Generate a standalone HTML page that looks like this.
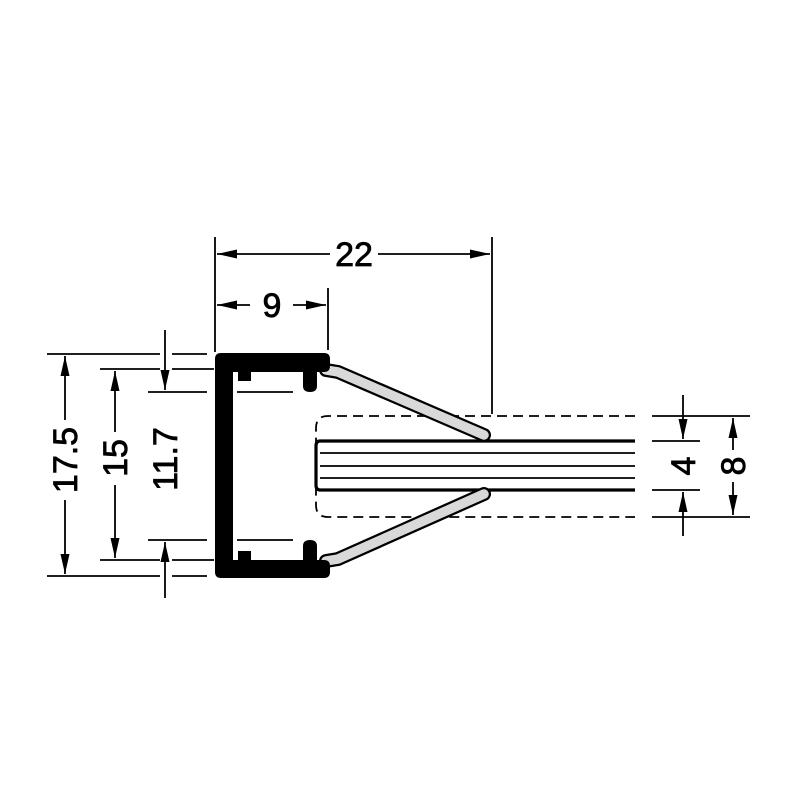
<!DOCTYPE html>
<html><head><style>html,body{margin:0;padding:0;background:#fff}svg{display:block}</style></head>
<body>
<svg width="800" height="800" viewBox="0 0 800 800" xmlns="http://www.w3.org/2000/svg">
<defs>
<marker id="a" viewBox="0 0 20 10" refX="20" refY="5" markerWidth="20" markerHeight="10" markerUnits="userSpaceOnUse" orient="auto-start-reverse"><path d="M0,0.5 L20,5 L0,9.5z" fill="#000"/></marker>
</defs>
<rect width="800" height="800" fill="#fff"/>
<g stroke="#000" stroke-width="1.8" fill="none">
<line x1="215" y1="237" x2="215" y2="352"/>
<line x1="492" y1="237" x2="492" y2="414"/>
<line x1="328" y1="288" x2="328" y2="350"/>
<line x1="217" y1="254" x2="330" y2="254" marker-start="url(#a)"/>
<line x1="378" y1="254" x2="490" y2="254" marker-end="url(#a)"/>
<line x1="217" y1="305" x2="250" y2="305" marker-start="url(#a)"/>
<line x1="293" y1="305" x2="326" y2="305" marker-end="url(#a)"/>
<line x1="47" y1="354" x2="160" y2="354"/><line x1="172" y1="354" x2="207" y2="354"/>
<line x1="100" y1="369" x2="160" y2="369"/><line x1="172" y1="369" x2="214" y2="369"/>
<line x1="148" y1="392" x2="207" y2="392"/><line x1="237" y1="392" x2="293" y2="392"/>
<line x1="148" y1="540" x2="207" y2="540"/><line x1="237" y1="540" x2="293" y2="540"/>
<line x1="100" y1="560" x2="160" y2="560"/><line x1="172" y1="560" x2="214" y2="560"/>
<line x1="47" y1="576" x2="160" y2="576"/><line x1="172" y1="576" x2="207" y2="576"/>
<line x1="65" y1="420" x2="65" y2="356" marker-end="url(#a)"/>
<line x1="65" y1="500" x2="65" y2="574" marker-end="url(#a)"/>
<line x1="115" y1="432" x2="115" y2="371" marker-end="url(#a)"/>
<line x1="115" y1="485" x2="115" y2="558" marker-end="url(#a)"/>
<line x1="165" y1="330" x2="165" y2="390" marker-end="url(#a)"/>
<line x1="165" y1="598" x2="165" y2="542" marker-end="url(#a)"/>
<line x1="652" y1="416" x2="750" y2="416"/>
<line x1="652" y1="517" x2="750" y2="517"/>
<line x1="652" y1="441" x2="700" y2="441"/>
<line x1="652" y1="490" x2="700" y2="490"/>
<line x1="683" y1="395" x2="683" y2="439" marker-end="url(#a)"/>
<line x1="683" y1="536" x2="683" y2="492" marker-end="url(#a)"/>
<line x1="733" y1="450" x2="733" y2="418" marker-end="url(#a)"/>
<line x1="733" y1="482" x2="733" y2="515" marker-end="url(#a)"/>
<path d="M635,416 L328,416 Q316,416 316,428 L316,505 Q316,517 328,517 L635,517" stroke-dasharray="10,6"/>
<path d="M635,441 L320,441 Q316,441 316,446 L316,485 Q316,490 320,490 L635,490" stroke-width="3.2"/>
<line x1="320" y1="453" x2="635" y2="453"/>
<line x1="320" y1="466" x2="635" y2="466"/>
<line x1="320" y1="478" x2="635" y2="478"/>
</g>
<g stroke-linecap="round" fill="none">
<path d="M326,370 L338,372 L484,435" stroke="#000" stroke-width="14"/>
<path d="M326,370 L338,372 L484,435" stroke="#d9d9d9" stroke-width="9.5"/>
<path d="M326,561 L338,559 L484,494" stroke="#000" stroke-width="14"/>
<path d="M326,561 L338,559 L484,494" stroke="#d9d9d9" stroke-width="9.5"/>
</g>
<path fill="#000" fill-rule="evenodd" d="M221,353 L324,353 Q330,353 330,359 L330,366 Q330,372 324,372 L317,372 L317,386 Q317,392 310,392 Q303,392 303,386 L303,372 L251,372 L251,381 L238,381 L238,372 L233,372 L233,560 L238,560 L238,551 L251,551 L251,560 L303,560 L303,546 Q303,540 310,540 Q317,540 317,546 L317,560 L324,560 Q330,560 330,566 L330,572 Q330,578 324,578 L221,578 Q215,578 215,572 L215,359 Q215,353 221,353 Z"/>
<g font-family="Liberation Sans, sans-serif" font-size="34" fill="#000" stroke="#000" stroke-width="0.8" text-anchor="middle">
<text x="354" y="266">22</text>
<text x="272" y="317">9</text>
<text transform="translate(77,460) rotate(-90)">17.5</text>
<text transform="translate(127,458) rotate(-90)">15</text>
<text transform="translate(177,459) rotate(-90)">11.7</text>
<text transform="translate(695,466) rotate(-90)">4</text>
<text transform="translate(745,466) rotate(-90)">8</text>
</g>
</svg>
</body></html>
